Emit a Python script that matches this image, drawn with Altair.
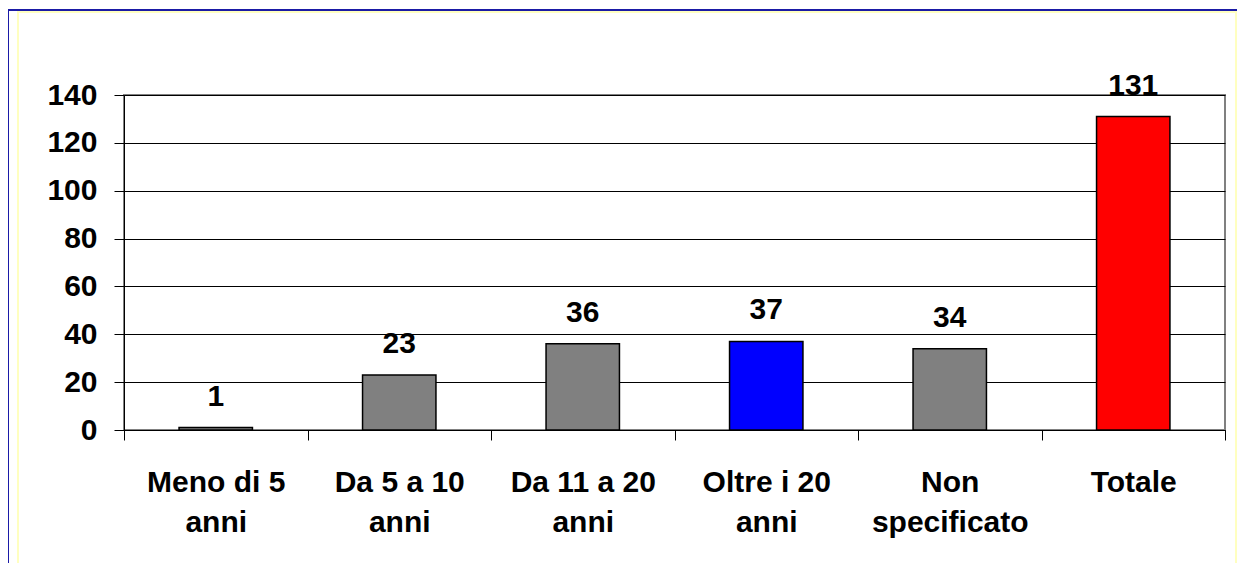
import altair as alt
import pandas as pd

categories = ["Meno di 5 anni", "Da 5 a 10 anni", "Da 11 a 20 anni",
              "Oltre i 20 anni", "Non specificato", "Totale"]
values = [1, 23, 36, 37, 34, 131]
groups = ["base", "base", "base", "evidenza", "base", "totale"]
y_ticks = [0, 20, 40, 60, 80, 100, 120, 140]

group_domain = ["base", "evidenza", "totale"]
group_colors = ["#808080", "#0000FF", "#FF0000"]

df = pd.DataFrame({"categoria": categories, "valore": values, "gruppo": groups})

FONT = "Liberation Sans"

label_expr = ("lastindexof(datum.label, ' ') > 0 ? "
              "[substring(datum.label, 0, lastindexof(datum.label, ' ')), "
              "substring(datum.label, lastindexof(datum.label, ' ') + 1)] : datum.label")

x = alt.X("categoria:N", sort=categories, title=None,
          scale=alt.Scale(paddingInner=0, paddingOuter=0),
          axis=alt.Axis(labelAngle=0, labelFont=FONT, labelFontSize=30,
                        labelFontWeight="bold", labelColor="black",
                        labelLineHeight=40, labelPadding=27,
                        tickBand="extent", ticks=True, tickSize=10,
                        tickColor="black", domainColor="black",
                        grid=False, labelExpr=label_expr))

y = alt.Y("valore:Q", title=None,
          scale=alt.Scale(domain=[0, 140], nice=False),
          axis=alt.Axis(values=y_ticks, labelFont=FONT, labelFontSize=30,
                        labelFontWeight="bold", labelColor="black",
                        labelPadding=17, tickSize=10, tickColor="black",
                        domainColor="black", gridColor="#000000",
                        gridWidth=1))

bars = alt.Chart(df).mark_bar(
    width=alt.RelativeBandSize(0.4), stroke="black", strokeWidth=1.5
).encode(
    x=x, y=y,
    color=alt.Color("gruppo:N", scale=alt.Scale(domain=group_domain, range=group_colors),
                    legend=None),
)

texts = alt.Chart(df).mark_text(
    font=FONT, fontSize=30, fontWeight="bold", color="black",
    baseline="alphabetic", dy=-22
).encode(x=x, y=y, text="valore:Q")

# decorative frame around the whole picture
blue_top = alt.Chart(df).mark_rule(color="#1A1AA6", strokeWidth=2, clip=False).encode(
    x=alt.value(-116), x2=alt.value(1113), y=alt.value(-85))
blue_left = alt.Chart(df).mark_rule(color="#1A1AA6", strokeWidth=2, clip=False).encode(
    x=alt.value(-116), y=alt.value(-85), y2=alt.value(470))
yellow_frame = alt.Chart(df).mark_rect(fill=None, stroke="#FFFFC0", strokeWidth=2,
                                       clip=False).encode(
    x=alt.value(-106), x2=alt.value(1112), y=alt.value(-83), y2=alt.value(469))

chart = alt.layer(yellow_frame, blue_top, blue_left, bars, texts).properties(
    width=1101, height=335,
    padding={"left": 116, "top": 87, "right": 14, "bottom": 133},
    autosize=alt.AutoSizeParams(type="none"),
    background="white",
).configure_view(stroke="#808080", strokeWidth=2)

chart.save("out.html", embed_options={"renderer": "svg", "actions": False})
